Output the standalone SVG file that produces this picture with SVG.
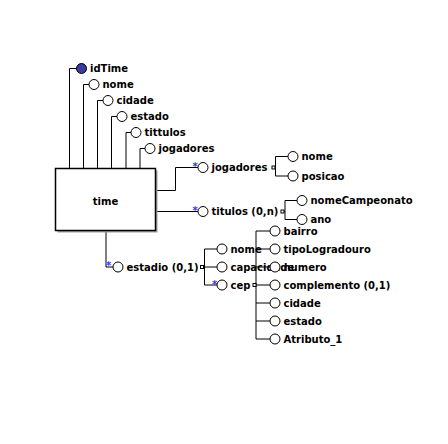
<svg xmlns="http://www.w3.org/2000/svg" width="448" height="444" viewBox="0 0 448 444">
<style>
text{font-family:"DejaVu Sans",Verdana,sans-serif;font-weight:bold;font-size:10px;fill:#000}
.c{fill:#fff;stroke:#000;stroke-width:1}
.pk{fill:#3b3b9e;stroke:#000;stroke-width:1}
.ln{fill:none;stroke:#000;stroke-width:1}
.sq{fill:#fff;stroke:#000;stroke-width:1}
.ast{fill:#3333ff;font-size:10px;text-anchor:middle;font-weight:bold}
</style>
<rect width="448" height="444" fill="#fff"/>
<g id="connectors" class="ln">
<path d="M69.5 168 V68.5 H76.5"/>
<path d="M83.5 168 V84.5 H89"/>
<path d="M97.5 168 V100.5 H103"/>
<path d="M111.5 168 V116.5 H117"/>
<path d="M126 168 V132.5 H131"/>
<path d="M140 168 V148.5 H145"/>
<path d="M156 190.5 H175.5 V167.5 H198"/>
<path d="M275 167.5 H275.5 M275.5 156.5 V176 M275.5 156.5 H288 M275.5 176 H288"/>
<path d="M156 211.5 H198"/>
<path d="M284 211.5 H285 M285 200.5 V219.5 M285 200.5 H297 M285 219.5 H297"/>
<path d="M106 231.5 V267 H113"/>
<path d="M203.5 267 H204.5 M204.5 249 V285 M204.5 249 H217 M204.5 267 H217 M204.5 285 H217"/>
<path d="M256 231 V339 M256 231 H270 M256 249 H270 M256 267 H270 M256 285 H270 M256 303 H270 M256 321 H270 M256 339 H270"/>
</g>
<g id="time">
<rect x="57.5" y="170.5" width="100" height="62" fill="#a0a0a0"/>
<rect x="55.5" y="168.5" width="100" height="62" fill="#fff" stroke="#000" stroke-width="1.5"/>
<text x="105.5" y="204.5" text-anchor="middle">time</text>
</g>
<g id="idTime"><circle class="pk" cx="81.5" cy="68.5" r="5"/><text x="90" y="72">idTime</text></g>
<g id="nome"><circle class="c" cx="94" cy="84.5" r="5"/><text x="102.5" y="88">nome</text></g>
<g id="cidade"><circle class="c" cx="108" cy="100.5" r="5"/><text x="116.5" y="104">cidade</text></g>
<g id="estado"><circle class="c" cx="122" cy="116.5" r="5"/><text x="130.5" y="120">estado</text></g>
<g id="tittulos"><circle class="c" cx="136" cy="132.5" r="5"/><text x="144.5" y="136">tittulos</text></g>
<g id="jogadores-attr"><circle class="c" cx="150" cy="148.5" r="5"/><text x="158.5" y="152">jogadores</text></g>
<g id="jogadores">
<text class="ast" x="195" y="169.5">*</text>
<circle class="c" cx="203" cy="167.5" r="5"/><text x="211.5" y="171">jogadores</text>
<rect class="sq" x="272" y="166" width="3" height="3"/>
</g>
<g id="jog-nome"><circle class="c" cx="293" cy="156.5" r="5"/><text x="301.5" y="160">nome</text></g>
<g id="jog-posicao"><circle class="c" cx="293" cy="176" r="5"/><text x="301.5" y="179.5">posicao</text></g>
<g id="titulos">
<text class="ast" x="195" y="213.5">*</text>
<circle class="c" cx="203" cy="211.5" r="5"/><text x="211.5" y="215">titulos (0,n)</text>
<rect class="sq" x="281" y="210" width="3" height="3"/>
</g>
<g id="tit-nomeCampeonato"><circle class="c" cx="302" cy="200.5" r="5"/><text x="310.5" y="204">nomeCampeonato</text></g>
<g id="tit-ano"><circle class="c" cx="302" cy="219.5" r="5"/><text x="310.5" y="223">ano</text></g>
<g id="estadio">
<text class="ast" x="108.5" y="268.5">*</text>
<circle class="c" cx="118" cy="267" r="5"/><text x="126.5" y="270.5">estadio (0,1)</text>
<rect class="sq" x="200.5" y="265.5" width="3" height="3"/>
</g>
<g id="est-nome"><circle class="c" cx="222" cy="249" r="5"/><text x="230.5" y="252.5">nome</text></g>
<g id="est-capacidade"><circle class="c" cx="222" cy="267" r="5"/><text x="230.5" y="270.5">capacidade</text></g>
<g id="est-cep">
<text class="ast" x="214.5" y="287.5">*</text>
<circle class="c" cx="222" cy="285" r="5"/><text x="230.5" y="288.5">cep</text>
<rect class="sq" x="253" y="283.5" width="3" height="3"/>
</g>
<g id="cep-bairro"><circle class="c" cx="275" cy="231" r="5"/><text x="283.5" y="234.5">bairro</text></g>
<g id="cep-tipoLogradouro"><circle class="c" cx="275" cy="249" r="5"/><text x="283.5" y="252.5">tipoLogradouro</text></g>
<g id="cep-numero"><circle class="c" cx="275" cy="267" r="5"/><text x="283.5" y="270.5">numero</text></g>
<g id="cep-complemento"><circle class="c" cx="275" cy="285" r="5"/><text x="283.5" y="288.5">complemento (0,1)</text></g>
<g id="cep-cidade"><circle class="c" cx="275" cy="303" r="5"/><text x="283.5" y="306.5">cidade</text></g>
<g id="cep-estado"><circle class="c" cx="275" cy="321" r="5"/><text x="283.5" y="324.5">estado</text></g>
<g id="cep-Atributo_1"><circle class="c" cx="275" cy="339" r="5"/><text x="283.5" y="342.5">Atributo_1</text></g>
</svg>
